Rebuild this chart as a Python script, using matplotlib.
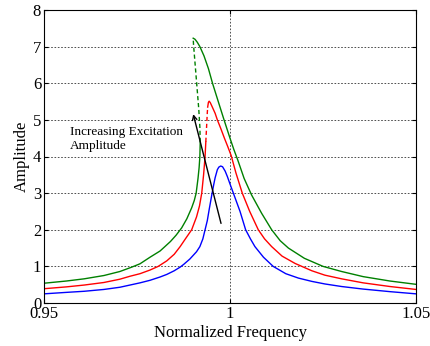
import matplotlib
matplotlib.use("Agg")
import matplotlib.pyplot as plt

plt.rcParams['font.family'] = ['Liberation Serif', 'DejaVu Serif']

# egriler: (frekans, genlik) resimden okunan noktalar
blue_f = [0.95, 0.9560, 0.9608, 0.9661, 0.9704, 0.9731, 0.9758, 0.9785, 0.9812, 0.9830,
          0.9850, 0.9866, 0.9875, 0.9892, 0.9910, 0.9919, 0.9927, 0.9933, 0.9939, 0.9944,
          0.9951, 0.9956, 0.9960, 0.9966, 0.9970, 0.9975, 0.9980, 0.9987, 0.9993, 1.0000,
          1.0009, 1.0027, 1.0042, 1.0055, 1.0067, 1.0090, 1.0116, 1.0150, 1.0184, 1.0220,
          1.0255, 1.0300, 1.0358, 1.0430, 1.05]
blue_a = [0.25, 0.29, 0.32, 0.37, 0.43, 0.49, 0.55, 0.62, 0.71, 0.78,
          0.88, 0.98, 1.05, 1.2, 1.4, 1.54, 1.75, 2.0, 2.25, 2.55,
          2.95, 3.22, 3.42, 3.64, 3.71, 3.74, 3.72, 3.6, 3.45, 3.25,
          3.0, 2.5, 2.0, 1.75, 1.54, 1.25, 1.0, 0.80, 0.68, 0.59,
          0.52, 0.45, 0.38, 0.31, 0.25]

red_low_f = [0.95, 0.9560, 0.9608, 0.9661, 0.9704, 0.9731, 0.9758, 0.9785, 0.9807, 0.9830,
             0.9850, 0.9866, 0.9880, 0.9897, 0.9910, 0.9918, 0.9924, 0.9929, 0.9933, 0.9935]
red_low_a = [0.39, 0.44, 0.49, 0.56, 0.65, 0.73, 0.80, 0.90, 1.0, 1.15,
             1.33, 1.54, 1.75, 2.0, 2.35, 2.65, 3.0, 3.5, 4.0, 4.4]
red_mid_f = [0.9935, 0.9937, 0.9939, 0.9940]
red_mid_a = [4.4, 4.8, 5.2, 5.35]
red_up_f = [0.9940, 0.9942, 0.9944, 0.9947, 0.9952, 0.9960, 0.9966, 0.9975, 0.9985, 0.9994,
            1.0003, 1.0016, 1.0033, 1.0053, 1.0076, 1.0093, 1.0112, 1.0140, 1.0175, 1.0220,
            1.0255, 1.0300, 1.0358, 1.0430, 1.05]
red_up_a = [5.35, 5.48, 5.51, 5.47, 5.36, 5.18, 5.0, 4.77, 4.5, 4.27,
            4.03, 3.55, 3.0, 2.5, 2.0, 1.75, 1.54, 1.28, 1.08, 0.88,
            0.76, 0.66, 0.55, 0.45, 0.37]

green_low_f = [0.95, 0.9560, 0.9608, 0.9661, 0.9704, 0.9736, 0.9758, 0.9785, 0.9812, 0.9825,
               0.9840, 0.9855, 0.9870, 0.9884, 0.9897, 0.9904, 0.9909, 0.9914, 0.9917, 0.9919,
               0.9920]
green_low_a = [0.54, 0.60, 0.66, 0.75, 0.86, 0.98, 1.07, 1.25, 1.42, 1.54,
               1.68, 1.85, 2.05, 2.3, 2.6, 2.8, 3.0, 3.4, 3.7, 4.0,
               4.4]
green_mid_f = [0.9920, 0.9919, 0.9916, 0.9912, 0.9908, 0.9904, 0.9902, 0.9901]
green_mid_a = [4.4, 4.8, 5.3, 5.8, 6.3, 6.8, 7.05, 7.23]
green_up_f = [0.9901, 0.9906, 0.9912, 0.9919, 0.9930, 0.9942, 0.9953, 0.9970, 0.9984, 1.0000,
              1.0010, 1.0021, 1.0038, 1.0058, 1.0085, 1.0112, 1.0135, 1.0157, 1.0200, 1.0250,
              1.0300, 1.0358, 1.0430, 1.05]
green_up_a = [7.23, 7.2, 7.12, 7.0, 6.75, 6.4, 6.0, 5.45, 5.0, 4.5,
              4.2, 3.9, 3.4, 2.95, 2.45, 2.0, 1.7, 1.5, 1.22, 1.0,
              0.86, 0.72, 0.60, 0.51]

x_ticks = [0.95, 1, 1.05]
x_tick_labels = ['0.95', '1', '1.05']
y_ticks = [0, 1, 2, 3, 4, 5, 6, 7, 8]

fig = plt.figure(figsize=(4.3, 3.46), dpi=100)
ax = fig.add_axes([44/430, 43/346, 372/430, 293/346])

g = '#008000'
ax.plot(blue_f, blue_a, color='#0000ff', lw=1)
ax.plot(red_low_f, red_low_a, color='#ff0000', lw=1)
ax.plot(red_mid_f, red_mid_a, color='#ff0000', lw=1, ls=(0, (3, 2)))
ax.plot(red_up_f, red_up_a, color='#ff0000', lw=1)
ax.plot(green_low_f, green_low_a, color=g, lw=1)
ax.plot(green_mid_f, green_mid_a, color=g, lw=1, ls=(0, (3, 2)))
ax.plot(green_up_f, green_up_a, color=g, lw=1)

ax.annotate('', xy=(0.98993, 5.23), xytext=(0.99777, 2.10),
            arrowprops=dict(arrowstyle='->', color='black', lw=1, mutation_scale=8))
ax.text(0.9570, 4.47, 'Increasing Excitation\nAmplitude', fontsize=9.5,
        va='center', ha='left', linespacing=1.25)

ax.set_xlim(0.95, 1.05)
ax.set_ylim(0, 8)
ax.set_xticks(x_ticks)
ax.set_xticklabels(x_tick_labels)
ax.set_yticks(y_ticks)
ax.grid(True, color='black', ls=(0, (2, 2)), lw=0.6, alpha=0.8)
ax.tick_params(direction='in', top=True, right=True, labelsize=12, length=3, pad=2)
ax.set_xlabel('Normalized Frequency', fontsize=12, labelpad=2)
ax.set_ylabel('Amplitude', fontsize=12, labelpad=2)
for s in ax.spines.values():
    s.set_linewidth(0.8)

fig.savefig('out.png', dpi=100)
